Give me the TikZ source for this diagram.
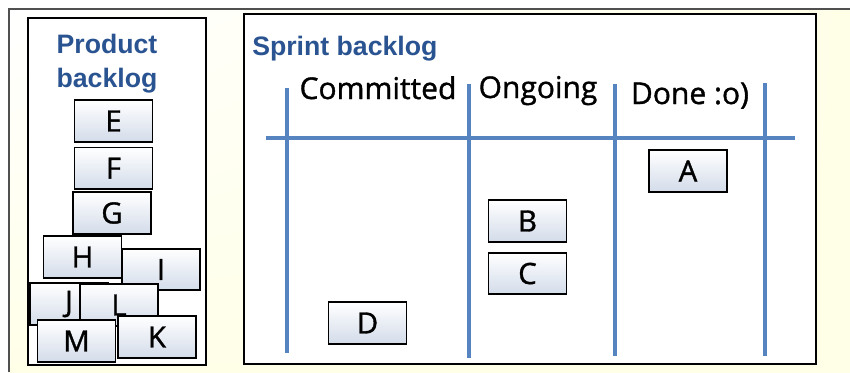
\documentclass[tikz,border=0pt]{standalone}
\usepackage{fontspec}
\setmainfont{Liberation Sans}
\newfontfamily\handfont{Open Sans}[FakeBold=1.2]
\usetikzlibrary{
    positioning,
    calc,
    shadings
}
\definecolor{TitleBlue}{HTML}{2A5391}
\definecolor{BoardBlue}{HTML}{5584C0}
\definecolor{Cream}{HTML}{FFFFE8}
\definecolor{CardShade}{HTML}{D3DCEA}
\definecolor{FrameGrey}{HTML}{505050}

\begin{document}
\begin{tikzpicture}[
                x=0.75pt, y=-0.75pt,
                node distance=3pt,
                every node/.style={align=center},
                card/.style={
                    draw=black,
                    line width=1.4pt,
                    top color=white,
                    bottom color=CardShade,
                    minimum width=58.5pt,
                    minimum height=31pt,
                    inner sep=0pt,
                    font=\handfont\fontsize{22}{22}\selectfont
                },
                heading/.style={
                    text=TitleBlue,
                    inner sep=0pt,
                    font=\bfseries\fontsize{20}{25.5}\selectfont
                },
                column/.style={
                    inner sep=0pt,
                    font=\handfont\fontsize{22.5}{22.5}\selectfont
                },
                panel/.style={draw=black, line width=1.8pt, fill=white},
                boardline/.style={BoardBlue, line width=2.8pt}
            ]

                % background and outer frame
                \useasboundingbox (0,0) rectangle (850,372);
                \fill[white] (0,0) rectangle (850,372);
                \shade[upper left=white, upper right=Cream,
                       lower left=Cream, lower right=Cream]
                    (9,9) rectangle (850,372);
                \draw[FrameGrey, line width=1.6pt]
                    (9,372) -- (9,9) -- (850,9);

                % the two panels
                \draw[panel] (28,18) rectangle (206,365);
                \draw[panel] (244,14) rectangle (816,364);

                \node[heading, anchor=north] (producttitle) at (107,34)
                    {Product\\backlog};
                \node[heading, anchor=base west] (sprinttitle) at (252,55)
                    {Sprint backlog};

                % board grid
                \draw[boardline] (266,138) -- (795,138);
                \draw[boardline] (287,88) -- (287,353);
                \draw[boardline] (469,84) -- (469,358);
                \draw[boardline] (615,84) -- (615,356);
                \draw[boardline] (765,83) -- (765,356);

                \node[column, anchor=base] (committed) at (378,99) {Committed};
                \node[column, anchor=base] (ongoing) at (538,98) {Ongoing};
                \node[column, anchor=base] (done) at (690,104) {Done :o)};

                % sprint cards
                \node[card] (cardA) at (688,171) {A};
                \node[card] (cardB) at (527.5,221) {B};
                \node[card, below=of cardB, yshift=-4pt] (cardC) {C};
                \node[card] (cardD) at (367.5,323) {D};

                % product cards
                \node[card] (cardE) at (113.5,121) {E};
                \node[card, below=of cardE] (cardF) {F};
                \node[card] (cardG) at (112,213) {G};
                \node[card] (cardI) at (161,269.5) {I};
                \node[card] (cardH) at (82.5,257) {H};
                \node[card] (cardJ) at (69,304) {J};
                \node[card] (cardL) at (119,305) {L};
                \node[card] (cardM) at (76.5,341) {M};
                \node[card] (cardK) at (157,337) {K};

            \end{tikzpicture}
\end{document}
